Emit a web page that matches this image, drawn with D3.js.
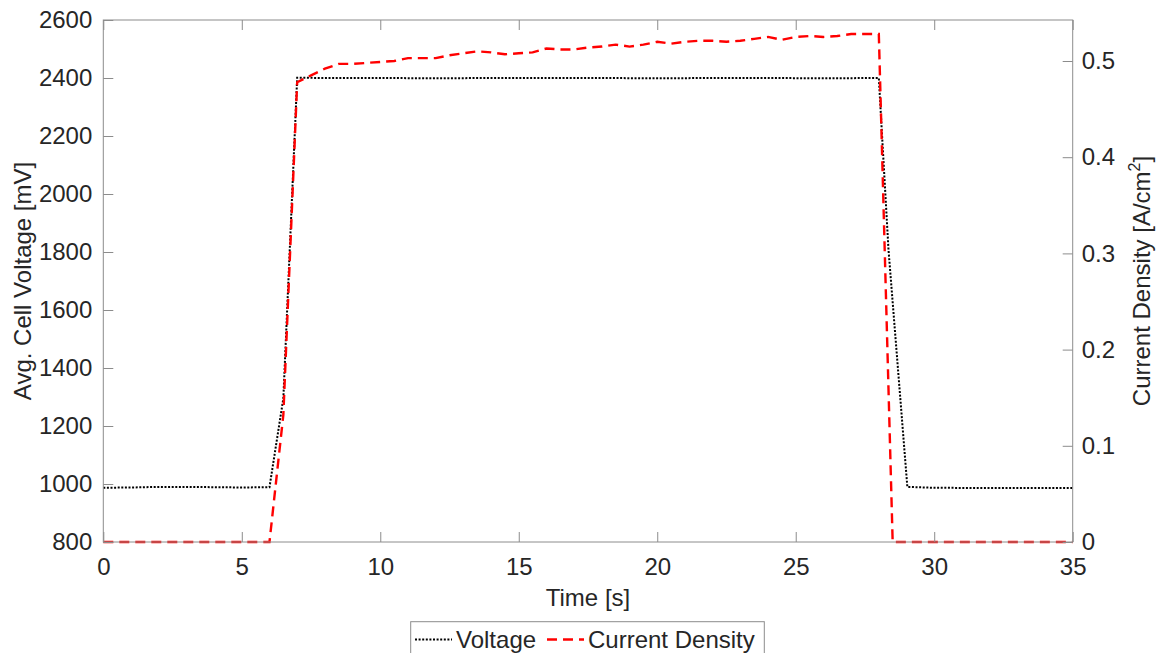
<!DOCTYPE html>
<html>
<head>
<meta charset="utf-8">
<script src="https://cdn.jsdelivr.net/npm/d3@7"></script>
<style>
  body { margin: 0; background: #fff; }
  text { font-family: "Liberation Sans", Arial, sans-serif; fill: #262626; }
</style>
</head>
<body>
<div id="chart"></div>
<script>
// データ
const voltageTime = [0, 1, 2, 3, 4, 5, 6.0, 6.5, 7.0, 8, 10, 12, 14, 16, 18, 20, 22, 24, 26, 28.0, 28.35, 29.03, 30, 32, 35];
const voltageMv = [987, 988, 990, 990, 989, 988, 989, 1295, 2401, 2400, 2400, 2399, 2400, 2400, 2400, 2399, 2400, 2400, 2399, 2400, 1807, 990, 987, 986, 986];

const currentTime = [0, 6.0, 6.5, 7.0, 7.5, 8.0, 8.5, 9.0, 9.5, 10.0, 10.5, 11.0, 11.5, 12.0, 12.5, 13.0, 13.5, 14.0, 14.5, 15.0, 15.5, 16.0, 16.5, 17.0, 17.5, 18.0, 18.5, 19.0, 19.5, 20.0, 20.5, 21.0, 21.5, 22.0, 22.5, 23.0, 23.5, 24.0, 24.5, 25.0, 25.5, 26.0, 26.5, 27.0, 27.5, 28.0, 28.5, 35];
const currentDensity = [0, 0, 0.132, 0.478, 0.485, 0.492, 0.497, 0.497, 0.498, 0.499, 0.500, 0.503, 0.503, 0.503, 0.506, 0.508, 0.510, 0.509, 0.507, 0.508, 0.509, 0.513, 0.512, 0.512, 0.514, 0.515, 0.517, 0.515, 0.517, 0.520, 0.518, 0.520, 0.521, 0.521, 0.520, 0.521, 0.523, 0.525, 0.522, 0.525, 0.526, 0.525, 0.526, 0.528, 0.528, 0.528, 0, 0];

const xTicks = [0, 5, 10, 15, 20, 25, 30, 35];
const leftTicks = [800, 1000, 1200, 1400, 1600, 1800, 2000, 2200, 2400, 2600];
const rightTicks = [0, 0.1, 0.2, 0.3, 0.4, 0.5];

// グラフの大きさを設定
const width = 1158;
const height = 653;
const plot = {left: 103.3, right: 1072.7, top: 20, bottom: 542};
const axisColor = '#8c8c8c';

const svg = d3.select('#chart')
  .append('svg')
  .attr('width', width)
  .attr('height', height);

// スケール
const x = d3.scaleLinear().domain([0, 35]).range([plot.left, plot.right]);
const yL = d3.scaleLinear().domain([800, 2600]).range([plot.bottom, plot.top]);
const yR = d3.scaleLinear().domain([0, (plot.bottom - plot.top) / 962]).range([plot.bottom, plot.top]);

// 軸のスタイル
function styleAxis(g) {
  g.select('.domain').remove();
  g.selectAll('.tick line').attr('stroke', axisColor);
  g.selectAll('.tick text').style('font-size', '24px').attr('fill', '#262626');
}

// 線
const voltageLine = d3.line()
  .x((d, i) => x(voltageTime[i]))
  .y(d => yL(d));

const currentLine = d3.line()
  .x((d, i) => x(currentTime[i]))
  .y(d => yR(d));

svg.append('path')
  .datum(voltageMv)
  .attr('d', voltageLine)
  .attr('fill', 'none')
  .attr('stroke', '#000')
  .attr('stroke-width', 2)
  .attr('stroke-dasharray', '2,1.6');

svg.append('path')
  .datum(currentDensity)
  .attr('d', currentLine)
  .attr('fill', 'none')
  .attr('stroke', '#ff0000')
  .attr('stroke-width', 2.4)
  .attr('stroke-dasharray', '10,6');

// 下軸
svg.append('g')
  .attr('transform', `translate(0,${plot.bottom})`)
  .call(d3.axisBottom(x).tickValues(xTicks).tickSize(-10).tickPadding(16).tickFormat(d3.format('d')))
  .call(styleAxis);

// 上軸（目盛のみ）
svg.append('g')
  .attr('transform', `translate(0,${plot.top})`)
  .call(d3.axisTop(x).tickValues(xTicks).tickSize(-10).tickFormat(''))
  .call(styleAxis);

// 左軸
svg.append('g')
  .attr('transform', `translate(${plot.left},0)`)
  .call(d3.axisLeft(yL).tickValues(leftTicks).tickSize(-10).tickPadding(11).tickFormat(d3.format('d')))
  .call(styleAxis);

// 右軸
svg.append('g')
  .attr('transform', `translate(${plot.right},0)`)
  .call(d3.axisRight(yR).tickValues(rightTicks).tickSize(-10).tickPadding(9).tickFormat(d => d === 0 ? '0' : d3.format('.1f')(d)))
  .call(styleAxis);

// 枠（線の上に描く）
svg.append('rect')
  .attr('x', plot.left)
  .attr('y', plot.top)
  .attr('width', plot.right - plot.left)
  .attr('height', plot.bottom - plot.top)
  .attr('fill', 'none')
  .attr('stroke', axisColor)
  .attr('stroke-width', 1);

// 軸ラベル
svg.append('text')
  .attr('x', (plot.left + plot.right) / 2)
  .attr('y', 606)
  .attr('text-anchor', 'middle')
  .style('font-size', '24px')
  .text('Time [s]');

svg.append('text')
  .attr('transform', `translate(31,${(plot.top + plot.bottom) / 2}) rotate(-90)`)
  .attr('text-anchor', 'middle')
  .style('font-size', '24px')
  .text('Avg. Cell Voltage [mV]');

const rLabel = svg.append('text')
  .attr('transform', `translate(1150,${(plot.top + plot.bottom) / 2}) rotate(-90)`)
  .attr('text-anchor', 'middle')
  .style('font-size', '24px');
rLabel.append('tspan').text('Current Density [A/cm');
rLabel.append('tspan').attr('dy', -10).style('font-size', '16px').text('2');
rLabel.append('tspan').attr('dy', 10).text(']');

// 凡例
const legend = svg.append('g');
legend.append('rect')
  .attr('x', 410.7)
  .attr('y', 621.7)
  .attr('width', 353.6)
  .attr('height', 40)
  .attr('fill', '#fff')
  .attr('stroke', axisColor);

legend.append('line')
  .attr('x1', 415).attr('x2', 452)
  .attr('y1', 639.5).attr('y2', 639.5)
  .attr('stroke', '#000').attr('stroke-width', 2)
  .attr('stroke-dasharray', '2,1.6');
legend.append('text')
  .attr('x', 456).attr('y', 648)
  .style('font-size', '24px').attr('fill', '#000')
  .text('Voltage');

legend.append('line')
  .attr('x1', 547).attr('x2', 584)
  .attr('y1', 639.5).attr('y2', 639.5)
  .attr('stroke', '#ff0000').attr('stroke-width', 2.4)
  .attr('stroke-dasharray', '10,6');
legend.append('text')
  .attr('x', 588).attr('y', 648)
  .style('font-size', '24px').attr('fill', '#000')
  .text('Current Density');
</script>
</body>
</html>
